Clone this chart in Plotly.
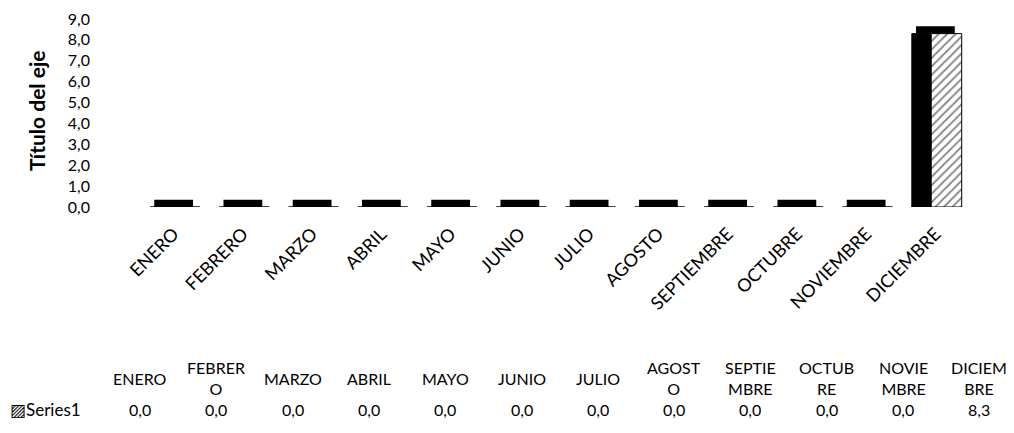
import plotly.graph_objects as go

# ---- data ----
months = ["ENERO", "FEBRERO", "MARZO", "ABRIL", "MAYO", "JUNIO", "JULIO",
          "AGOSTO", "SEPTIEMBRE", "OCTUBRE", "NOVIEMBRE", "DICIEMBRE"]
table_headers = ["ENERO", "FEBRER<br>O", "MARZO", "ABRIL", "MAYO", "JUNIO", "JULIO",
                 "AGOST<br>O", "SEPTIE<br>MBRE", "OCTUB<br>RE", "NOVIE<br>MBRE", "DICIEM<br>BRE"]
series_name = "Series1"
values = [0.0, 0.0, 0.0, 0.0, 0.0, 0.0, 0.0, 0.0, 0.0, 0.0, 0.0, 8.3]
y_ticks = [0, 1, 2, 3, 4, 5, 6, 7, 8, 9]
y_title = "Título del eje"

FONT = "Lato"
W, H = 1014, 433
OFF = 8  # page body margin of the browser
ML, MR, MT, MB = 139 - OFF, 44 + OFF, 19 - OFF, 226 + OFF
plot_w = W - ML - MR
plot_h = H - MT - MB
depth = 0.35  # visual depth of 3D cap

# data-table column layout (screen pixels)
TABLE_X0, TABLE_DX = 140, 76.3
HEADER_Y, VALUE_Y = 378, 410


def px_x(px):
    return (px - OFF - ML) / plot_w


def px_y(py):
    return (H - MB - (py - OFF)) / plot_h


fig = go.Figure()

# dark side face of the 3D bars
fig.add_trace(go.Bar(
    x=months, y=values, offset=-0.34, width=0.28,
    marker=dict(color="black", line=dict(color="black", width=1)),
    showlegend=False, hoverinfo="skip"))

# hatched front face
fig.add_trace(go.Bar(
    x=months, y=values, offset=-0.06, width=0.44, name=series_name,
    marker=dict(color="white", line=dict(color="black", width=1),
                pattern=dict(shape="/", fgcolor="black", bgcolor="white",
                             size=6, solidity=0.3)),
    showlegend=False))

# top cap (flat parallelogram look)
fig.add_trace(go.Bar(
    x=months, y=[depth] * len(values), base=values, offset=-0.28, width=0.56,
    marker=dict(color="black", line=dict(color="black", width=0)),
    showlegend=False, hoverinfo="skip"))

# data table header and values
for i, (h, v) in enumerate(zip(table_headers, values)):
    cx = px_x(TABLE_X0 + i * TABLE_DX)
    fig.add_annotation(x=cx, xref="paper", y=px_y(HEADER_Y), yref="paper",
                       text=h, showarrow=False, xanchor="center", yanchor="middle",
                       font=dict(family=FONT, size=16, color="black"))
    fig.add_annotation(x=cx, xref="paper", y=px_y(VALUE_Y), yref="paper",
                       text=f"{v:.1f}".replace(".", ","), showarrow=False,
                       xanchor="center", yanchor="middle",
                       font=dict(family=FONT, size=16, color="black"))

# legend key of the data table
fig.add_annotation(x=px_x(8), xref="paper", y=px_y(VALUE_Y), yref="paper",
                   text="▨" + series_name, showarrow=False,
                   xanchor="left", yanchor="middle",
                   font=dict(family=FONT, size=17, color="black"))

# y-axis title
fig.add_annotation(x=px_x(36), xref="paper", y=px_y(111), yref="paper",
                   text=f"<b>{y_title}</b>", textangle=-90, showarrow=False,
                   xanchor="center", yanchor="middle",
                   font=dict(family=FONT, size=21, color="black"))

fig.update_layout(
    width=W, height=H,
    margin=dict(l=ML, r=MR, t=MT, b=MB, autoexpand=False),
    paper_bgcolor="white", plot_bgcolor="white",
    barmode="overlay",
    separators=", ",
    font=dict(family=FONT, size=16, color="black"),
    xaxis=dict(type="category", categoryorder="array", categoryarray=months,
               tickangle=-45, showgrid=False, showline=False, zeroline=False,
               ticks="", ticklabelstandoff=12, automargin=False,
               tickfont=dict(family=FONT, size=18, color="black")),
    yaxis=dict(range=[0, 9], tickvals=y_ticks, tickformat=".1f",
               showgrid=False, zeroline=False, showline=False, ticks="",
               ticklabelstandoff=48, automargin=False, ticklabeloverflow="allow",
               tickfont=dict(family=FONT, size=16, color="black")),
    showlegend=False,
)

fig.write_html("out.html")
